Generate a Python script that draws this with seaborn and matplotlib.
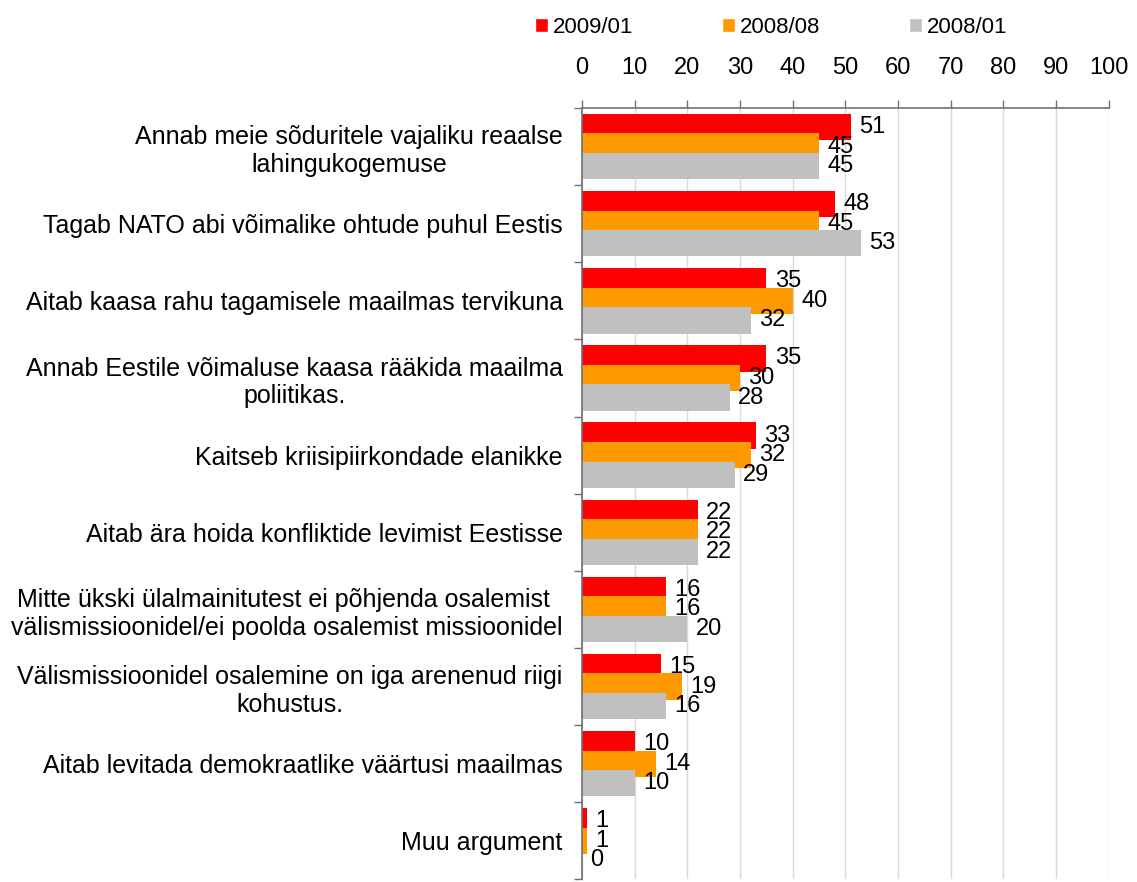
import numpy as np
import pandas as pd
import matplotlib
matplotlib.use("Agg")
import matplotlib.pyplot as plt
import seaborn as sns

# ---------------------------------------------
# DATA
# ---------------------------------------------
categories = [
    "Annab meie sõduritele vajaliku reaalse\nlahingukogemuse",
    "Tagab NATO abi võimalike ohtude puhul Eestis",
    "Aitab kaasa rahu tagamisele maailmas tervikuna",
    "Annab Eestile võimaluse kaasa rääkida maailma\npoliitikas.",
    "Kaitseb kriisipiirkondade elanikke",
    "Aitab ära hoida konfliktide levimist Eestisse",
    "Mitte ükski ülalmainitutest ei põhjenda osalemist \nvälismissioonidel/ei poolda osalemist missioonidel",
    "Välismissioonidel osalemine on iga arenenud riigi\nkohustus.",
    "Aitab levitada demokraatlike väärtusi maailmas",
    "Muu argument",
]
periods = ["2009/01", "2008/08", "2008/01"]
v_2009_01 = [51, 48, 35, 35, 33, 22, 16, 15, 10, 1]
v_2008_08 = [45, 45, 40, 30, 32, 22, 16, 19, 14, 1]
v_2008_01 = [45, 53, 32, 28, 29, 22, 20, 16, 10, 0]
colors = ["#FF0000", "#FF9900", "#C0C0C0"]

rows = []
for period, vals in zip(periods, [v_2009_01, v_2008_08, v_2008_01]):
    for cat, v in zip(categories, vals):
        rows.append({"argument": cat, "period": period, "value": v})
df = pd.DataFrame(rows)

# ---------------------------------------------
# PLOT
# ---------------------------------------------
sns.set_style("white")
plt.rcParams['font.family'] = ['Liberation Sans', 'DejaVu Sans']
plt.rcParams['text.color'] = 'black'
plt.rcParams['xtick.labelcolor'] = 'black'
plt.rcParams['ytick.labelcolor'] = 'black'

fig = plt.figure(figsize=(11.37, 8.82), dpi=100)
ax = fig.add_axes([0.512, 0.003, 0.463, 0.8745])

sns.barplot(data=df, x="value", y="argument", hue="period", hue_order=periods,
            order=categories, palette=colors, saturation=1, width=0.76, ax=ax)

# overlapping bars like the Excel original
for container in ax.containers:
    for bar in container:
        c = bar.get_y() + bar.get_height() / 2
        bar.set_height(0.34)
        bar.set_y(c - 0.17)
        bar.set_edgecolor("none")

for container, vals in zip(ax.containers, [v_2009_01, v_2008_08, v_2008_01]):
    ax.bar_label(container, labels=[str(v) for v in vals], padding=6, fontsize=17,
                 color="black")

handles, labels = ax.get_legend_handles_labels()
ax.get_legend().remove()
fig.legend(handles, labels, loc="center", bbox_to_anchor=(0.678, 0.969), ncol=3,
           frameon=False, fontsize=16, handlelength=0.6, handleheight=0.6,
           handletextpad=0.2, columnspacing=4.0, labelcolor="black")

ax.set_xlim(0, 100)
ax.set_ylim(9.5, -0.5)
ax.set_xticks(np.arange(0, 101, 10))
ax.xaxis.tick_top()
ax.set_xlabel("")
ax.set_ylabel("")
ax.xaxis.grid(True, color="#D9D9D9", linewidth=1)
ax.yaxis.grid(False)
ax.set_axisbelow(True)

for side in ["right", "bottom"]:
    ax.spines[side].set_visible(False)
for side in ["left", "top"]:
    ax.spines[side].set_color("#707070")
    ax.spines[side].set_linewidth(1.2)

ax.tick_params(axis="x", which="major", length=6, width=1, color="#707070",
               labelsize=17, pad=15, direction="out", top=True, bottom=False)
ax.set_yticks(np.arange(-0.5, 10, 1), minor=True)
ax.tick_params(axis="y", which="minor", length=6, width=1, color="#707070", left=True)
ax.tick_params(axis="y", which="major", length=0, labelsize=18, pad=14)
for lbl in ax.get_yticklabels():
    lbl.set_multialignment("center")

plt.savefig("out.png", dpi=100)
